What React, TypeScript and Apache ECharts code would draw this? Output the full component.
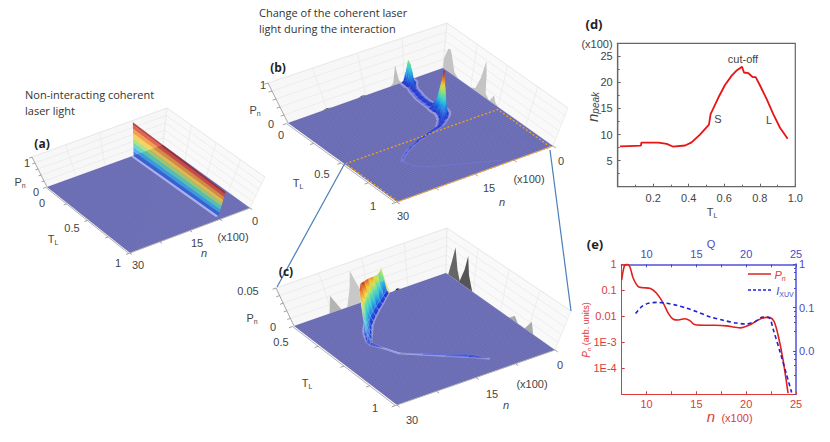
import { useEffect, useRef } from 'react';
import * as echarts from 'echarts';

// (d) peak position against T_L
const dT = [0.013, 0.06, 0.131, 0.133, 0.229, 0.276, 0.31, 0.38, 0.416, 0.463, 0.514, 0.523, 0.567, 0.604, 0.642, 0.67, 0.7, 0.711, 0.735, 0.76, 0.777, 0.8, 0.839, 0.876, 0.914, 0.957];
const dN = [7.74, 7.8, 7.87, 8.45, 8.45, 8.2, 7.7, 7.9, 8.5, 10, 11.9, 13.9, 17.1, 19.5, 21.3, 22.3, 23, 21.9, 21.8, 21, 21, 19.5, 16.8, 13.9, 11.3, 9.2];

// (e) spectrum and XUV intensity
const ePnX = [7.5, 7.66, 7.82, 8.06, 8.33, 8.66, 9.16, 9.67, 10.33, 11, 11.67, 12.18, 12.68, 13.18, 13.85, 14.35, 14.75, 15.7, 16.86, 18, 19.4, 20.4, 21.2, 22.05, 22.4, 22.8, 23.2, 23.7, 24.2];
const ePnV = [0.25, 0.6, 0.94, 1, 0.77, 0.29, 0.138, 0.126, 0.12, 0.077, 0.032, 0.013, 0.0077, 0.0072, 0.0081, 0.0068, 0.0049, 0.0045, 0.0045, 0.0043, 0.0036, 0.0047, 0.0072, 0.0091, 0.0089, 0.0063, 0.0019, 0.00021, 0.000011];
const eXuvX = [8.9, 9.5, 10.17, 11.07, 12, 13, 14, 15, 16.4, 17.7, 19, 20, 20.9, 21.7, 22.3, 22.7, 23.4, 24.06, 24.56];
const eXuvV = [0.073, 0.105, 0.126, 0.132, 0.126, 0.113, 0.097, 0.081, 0.061, 0.051, 0.044, 0.042, 0.048, 0.061, 0.059, 0.032, 0.0095, 0.0028, 0.0011];

// (a) straight ridge, read at its two ends
const aT = [0, 0.96];
const aN = [7.6, 7];
const aTop = [0.95, 0.75];
const aLevels = [0, 0.13, 0.26, 0.4, 0.53, 0.67, 0.8, 0.92, 1];
const aBandColors = ['#2b5fd8', '#2fa4e8', '#4fd0b4', '#9fdc6a', '#f5cb36', '#f08c2c', '#d9442a', '#a61f20'];

// (b) ridge along T_L: position, height and width of each slice
const bT = [0, 0.02, 0.04, 0.07, 0.1, 0.14, 0.18, 0.22, 0.26, 0.3, 0.33, 0.36, 0.38, 0.4, 0.43, 0.46, 0.49, 0.52, 0.55, 0.58, 0.61, 0.64, 0.67, 0.72, 0.76, 0.8, 0.84, 0.88, 0.92, 0.96];
const bN = [7, 7, 7.1, 7.4, 7.8, 8, 8.3, 8.4, 8.4, 8.3, 8.2, 8.1, 8.2, 8.4, 9, 10, 11, 13.5, 16.5, 18.5, 20, 21.2, 22, 21.8, 21, 19.5, 17, 14.5, 12, 9.3];
const bP = [0.25, 0.5, 0.46, 0.12, 0.06, 0.05, 0.05, 0.05, 0.05, 0.07, 0.25, 0.7, 1, 0.6, 0.2, 0.08, 0.05, 0.04, 0.03, 0.02, 0.015, 0.012, 0.005, 0.003, 0.003, 0.003, 0.003, 0.003, 0.003, 0.002];
const bW = [1, 1, 1, 0.7, 0.7, 0.7, 0.7, 0.7, 0.7, 0.8, 1, 1, 1, 1, 0.9, 0.8, 0.6, 0.5, 0.4, 0.4, 0.35, 0.3, 0.25, 0.08, 0.08, 0.08, 0.08, 0.08, 0.08, 0.08];

// (c) same ridge, zoomed in
const cT = [0.5, 0.52, 0.54, 0.56, 0.58, 0.6, 0.62, 0.64, 0.66, 0.68, 0.7, 0.74, 0.78, 0.82, 0.86, 0.9, 0.94];
const cN = [12, 13.5, 15, 16.6, 18, 19.3, 20.4, 21.2, 21.9, 22.6, 23, 21.8, 20.8, 18, 15.2, 12.3, 10];
const cP = [0.03, 0.03, 0.035, 0.04, 0.044, 0.048, 0.045, 0.035, 0.02, 0.008, 0.003, 0.0006, 0.0008, 0.0009, 0.0014, 0.003, 0.0008];
const cW = [0.7, 0.7, 0.75, 0.8, 0.8, 0.8, 0.75, 0.7, 0.6, 0.45, 0.3, 0.2, 0.2, 0.2, 0.25, 0.3, 0.15];

// cross-section of a ridge: offset in n, relative height
const ridgeOffsets = [-1, -0.6, -0.3, 0, 0.3, 0.6, 1];
const ridgeWeights = [0, 0.15, 0.6, 1, 0.6, 0.15, 0];

// silhouettes on the walls: T wall peaks run along n, n wall peaks along T
const bWallN = [
  { x: [8, 8.5, 8.8, 9, 9.2, 9.6, 10.2], p: [0, 0.08, 0.28, 0.45, 0.3, 0.06, 0], color: '#bdbdbd' },
  { x: [14.8, 15.6, 16.4], p: [0, 0.025, 0], color: '#555' },
  { x: [21.6, 22.5, 23.4], p: [0, 0.025, 0], color: '#555' },
];
const bWallT = [
  { x: [0, 0.01, 0.03, 0.05, 0.07, 0.1, 0.14], p: [0.2, 0.3, 0.48, 0.5, 0.35, 0.08, 0], color: '#c4c4c4' },
  { x: [0.25, 0.29, 0.32, 0.34, 0.36, 0.38, 0.42], p: [0, 0.06, 0.35, 0.78, 0.5, 0.1, 0], color: '#c4c4c4' },
  { x: [0.42, 0.45, 0.47, 0.5], p: [0, 0.18, 0.06, 0], color: '#c4c4c4' },
];
const cWallN = [
  { x: [20.6, 21.4, 21.9, 22.4, 23], p: [0, 0.012, 0.02, 0.01, 0], color: '#b4b4b4' },
  { x: [15.5, 16.6, 17.4, 18.2, 19.5], p: [0, 0.02, 0.04, 0.02, 0], color: '#c8c8c8' },
  { x: [11, 11.6, 12, 12.4, 13], p: [0, 0.015, 0.033, 0.018, 0], color: '#f0dc90' },
  { x: [9, 9.6, 10.2], p: [0, 0.002, 0], color: '#222' },
];
const cWallT = [
  { x: [0.51, 0.525, 0.537, 0.55, 0.565], p: [0, 0.018, 0.035, 0.012, 0], color: '#666' },
  { x: [0.56, 0.58, 0.59, 0.6, 0.62], p: [0, 0.018, 0.035, 0.015, 0], color: '#555' },
  { x: [0.79, 0.81, 0.83], p: [0, 0.006, 0], color: '#aaa' },
  { x: [0.86, 0.88, 0.9], p: [0, 0.012, 0], color: '#aaa' },
];

const nTicks = [0, 7.5, 15, 22.5, 30];
const pFractions = [0.2, 0.4, 0.6, 0.8, 1];

// the frame of each 3D box on the page
const panelA = { tMin: 0, tMax: 1, pMax: 1, left: [47, 187], back: [163, 145], right: [250, 208], front: [130, 253], upLeft: [-15, -30], upBack: [4, -37], upRight: [15, -31], upFront: [-8, -35] };
const panelB = { tMin: 0, tMax: 1, pMax: 1, left: [288, 123], back: [443, 68], right: [553, 146], front: [397, 202], upLeft: [-20, -40], upBack: [4, -45], upRight: [15, -38], upFront: [-8, -45] };
const panelC = { tMin: 0.5, tMax: 1, pMax: 0.05, left: [294, 326], back: [446, 273], right: [555, 350], front: [397, 405], upLeft: [-18, -38], upBack: [1, -45], upRight: [16, -39], upFront: [-8, -45] };

const FONT = '"Liberation Sans", Arial, sans-serif';
const FLOOR = '#6a6cb4';

function project(pn: any, T: number, n: number, P: number) {
  const s = (T - pn.tMin) / (pn.tMax - pn.tMin);
  const u = 1 - n / 30;
  const mix = (a: number[], b: number[], c: number[], d: number[], i: number) =>
    (1 - s) * ((1 - u) * a[i] + u * b[i]) + s * ((1 - u) * d[i] + u * c[i]);
  const h = P / pn.pMax;
  return [
    mix(pn.left, pn.back, pn.right, pn.front, 0) + h * mix(pn.upLeft, pn.upBack, pn.upRight, pn.upFront, 0),
    mix(pn.left, pn.back, pn.right, pn.front, 1) + h * mix(pn.upLeft, pn.upBack, pn.upRight, pn.upFront, 1),
  ];
}

const jetStops: [number, number[]][] = [
  [0, [124, 130, 232]],
  [0.02, [32, 48, 200]],
  [0.15, [31, 111, 232]],
  [0.35, [48, 208, 216]],
  [0.5, [128, 224, 128]],
  [0.65, [240, 224, 64]],
  [0.8, [240, 128, 32]],
  [1, [168, 24, 24]],
];
function jet(v: number) {
  const x = Math.max(0, Math.min(1, v));
  for (let i = 1; i < jetStops.length; i++) {
    if (x <= jetStops[i][0]) {
      const [a, ca] = jetStops[i - 1];
      const [b, cb] = jetStops[i];
      const f = (x - a) / (b - a);
      const c = ca.map((q, k) => Math.round(q + (cb[k] - q) * f));
      return `rgb(${c[0]},${c[1]},${c[2]})`;
    }
  }
  return 'rgb(168,24,24)';
}

// walls, grid lines and axis edges of one box
function boxItems(pn: any, tickT: number[]) {
  const { tMin: t0, tMax: t1, pMax } = pn;
  const items: any[] = [
    { pts: [[t0, 30, 0], [t0, 0, 0], [t0, 0, pMax], [t0, 30, pMax]], fill: '#f7f7f7', stroke: '#e4e4e4', lw: 0.6 },
    { pts: [[t0, 0, 0], [t1, 0, 0], [t1, 0, pMax], [t0, 0, pMax]], fill: '#f9f9f9', stroke: '#e4e4e4', lw: 0.6 },
  ];
  pFractions.forEach(f => {
    items.push({ pts: [[t0, 30, f * pMax], [t0, 0, f * pMax], [t1, 0, f * pMax]], stroke: '#e6e6e6', lw: 0.6 });
  });
  nTicks.slice(1, 4).forEach(n => {
    items.push({ pts: [[t0, n, 0], [t0, n, pMax]], stroke: '#e6e6e6', lw: 0.6 });
  });
  tickT.slice(1, 4).forEach(t => {
    items.push({ pts: [[t, 0, 0], [t, 0, pMax]], stroke: '#e6e6e6', lw: 0.6 });
  });
  return items;
}

function edgeItems(pn: any, tickT: number[]) {
  const { tMin: t0, tMax: t1, pMax } = pn;
  const dt = (t1 - t0) * 0.025;
  const items: any[] = [
    { pts: [[t0, 30.3, 0], [t1, 30.3, 0], [t1, 0, 0]], stroke: '#b0b0b0', lw: 1 },
    { pts: [[t0, 30, 0], [t0, 30, pMax]], stroke: '#999', lw: 0.8 },
  ];
  tickT.forEach(t => items.push({ pts: [[t, 30.3, 0], [t, 31, 0]], stroke: '#888', lw: 0.8 }));
  nTicks.forEach(n => items.push({ pts: [[t1, n, 0], [t1 + dt, n, 0]], stroke: '#888', lw: 0.8 }));
  pFractions.forEach(f => items.push({ pts: [[t0, 30, f * pMax], [t0, 30.6, f * pMax]], stroke: '#888', lw: 0.8 }));
  return items;
}

function floorItems(pn: any) {
  const { tMin: t0, tMax: t1 } = pn;
  const items: any[] = [{ pts: [[t0, 30, 0], [t0, 0, 0], [t1, 0, 0], [t1, 30, 0]], fill: FLOOR }];
  const steps = 60;
  for (let i = 1; i < steps; i++) {
    const t = t0 + ((t1 - t0) * i) / steps;
    const n = (30 * i) / steps;
    items.push({ pts: [[t, 30, 0], [t, 0, 0]], stroke: '#9a9cd6', lw: 0.4, opacity: 0.5 });
    items.push({ pts: [[t0, n, 0], [t1, n, 0]], stroke: '#4e5090', lw: 0.4, opacity: 0.4 });
  }
  return items;
}

function wallPeaks(pn: any, alongN: any[], alongT: any[]) {
  const items: any[] = [];
  alongN.forEach(w => items.push({ pts: w.x.map((x: number, i: number) => [pn.tMin, x, w.p[i]]), fill: w.color }));
  alongT.forEach(w => {
    const pts = w.x.map((x: number, i: number) => [x, 0, w.p[i]]);
    pts.push([w.x[w.x.length - 1], 0, 0], [w.x[0], 0, 0]);
    items.push({ pts, fill: w.color });
  });
  return items;
}

// surface over the ridge, one gradient quad per mesh cell
function ribbonItems(Ts: number[], Ns: number[], Ps: number[], Ws: number[], pMax: number, meshStroke?: string) {
  const items: any[] = [];
  for (let i = 0; i + 1 < Ts.length; i++) {
    const a = 1.5 * Ws[i];
    const b = 1.5 * Ws[i + 1];
    items.push({
      pts: [[Ts[i], Ns[i] - a, 0], [Ts[i], Ns[i] + a, 0], [Ts[i + 1], Ns[i + 1] + b, 0], [Ts[i + 1], Ns[i + 1] - b, 0]],
      fill: '#b4b8f2',
      opacity: Math.min(0.6, Ws[i + 1]),
    });
  }
  for (let i = 0; i + 1 < Ts.length; i++) {
    for (let j = 0; j + 1 < ridgeOffsets.length; j++) {
      const quad = [
        [Ts[i], Ns[i] + ridgeOffsets[j] * Ws[i], Ps[i] * ridgeWeights[j]],
        [Ts[i], Ns[i] + ridgeOffsets[j + 1] * Ws[i], Ps[i] * ridgeWeights[j + 1]],
        [Ts[i + 1], Ns[i + 1] + ridgeOffsets[j + 1] * Ws[i + 1], Ps[i + 1] * ridgeWeights[j + 1]],
        [Ts[i + 1], Ns[i + 1] + ridgeOffsets[j] * Ws[i + 1], Ps[i + 1] * ridgeWeights[j]],
      ];
      const hs = quad.map(q => q[2] / pMax);
      const hi = Math.max(...hs);
      const lo = Math.min(...hs);
      const fill = new echarts.graphic.LinearGradient(0, 0, 0, 1, [0, 0.25, 0.5, 0.75, 1].map(o => ({ offset: o, color: jet(hi - (hi - lo) * o) })));
      // the far tail of the ridge only just shows on the floor
      const faint = Ws[i + 1] < 0.1;
      items.push({ pts: quad, fill, stroke: meshStroke || fill, lw: meshStroke ? 0.3 : 0.2, opacity: faint ? 0.25 : 1 });
    }
  }
  return items;
}

function ridgeA() {
  const items: any[] = [
    { pts: [[aT[0], aN[0], 0], [aT[0], aN[0] + 0.7, 0], [aT[1], aN[1] + 0.7, 0], [aT[1], aN[1], 0]], fill: '#aab0ee' },
  ];
  aBandColors.forEach((c, k) => {
    items.push({
      pts: [
        [aT[0], aN[0], aLevels[k] * aTop[0]],
        [aT[1], aN[1], aLevels[k] * aTop[1]],
        [aT[1], aN[1], aLevels[k + 1] * aTop[1]],
        [aT[0], aN[0], aLevels[k + 1] * aTop[0]],
      ],
      fill: c,
      opacity: 0.82,
    });
  });
  return items;
}

function surface(pn: any, items: any[], z: number) {
  return {
    type: 'custom',
    xAxisIndex: 3,
    yAxisIndex: 3,
    coordinateSystem: 'cartesian2d',
    clip: false,
    silent: true,
    z,
    data: items.map((_, i) => [i, 0]),
    renderItem: (_p: any, api: any) => {
      const it = items[api.value(0)];
      const points = it.pts.map((q: number[]) => api.coord(project(pn, q[0], q[1], q[2])));
      return {
        type: it.fill ? 'polygon' : 'polyline',
        shape: { points },
        style: {
          fill: it.fill || 'none',
          stroke: it.stroke || 'none',
          lineWidth: it.lw || 0,
          opacity: it.opacity ?? 1,
          lineDash: it.dash,
        },
      };
    },
  };
}

function label(text: string, x: number, y: number, extra: any = {}) {
  return {
    type: 'text',
    x,
    y,
    z: 100,
    silent: true,
    style: { text, fontFamily: FONT, fontSize: 11, fill: '#444', align: 'center', verticalAlign: 'middle', ...extra },
  };
}

function subLabel(main: string, sub: string, x: number, y: number, opts: any = {}) {
  const { color = '#444', size = 11, subSize = 7, italic = false, subItalic = false, rotation, tail } = opts;
  const el: any = {
    type: 'text',
    x,
    y,
    z: 100,
    silent: true,
    style: {
      text: `{m|${main}}{s|${sub}}` + (tail ? `{t|${tail}}` : ''),
      align: 'center',
      verticalAlign: 'middle',
      rich: {
        m: { fontFamily: FONT, fontSize: size, fill: color, fontStyle: italic ? 'italic' : 'normal' },
        s: { fontFamily: FONT, fontSize: subSize, fill: color, fontStyle: subItalic ? 'italic' : 'normal', verticalAlign: 'bottom', padding: [6, 0, 0, 0] },
        t: { fontFamily: FONT, fontSize: size - 1, fill: color },
      },
    },
  };
  if (rotation) el.rotation = rotation;
  return el;
}

const titleStyle = { fontFamily: '"Open Sans", sans-serif', fontSize: 11, fill: '#333', align: 'left' };
const panelTag = { fontWeight: 'bold', fontSize: 12, fill: '#222', fontFamily: '"Open Sans", sans-serif' };
const RED = '#dd3a3a';
const BLUE = '#4a4ac8';
const AXIS_BLUE = '#7c7de2';

const graphics: any[] = [
  // connectors between (b) and (c)
  { type: 'line', z: 5, silent: true, shape: { x1: 345, y1: 163, x2: 277, y2: 287 }, style: { stroke: '#4a7ebb', lineWidth: 1.2 } },
  { type: 'line', z: 5, silent: true, shape: { x1: 550, y1: 150, x2: 571, y2: 311 }, style: { stroke: '#4a7ebb', lineWidth: 1.2 } },

  label('Non-interacting coherent', 25, 94, titleStyle),
  label('laser light', 25, 110, titleStyle),
  label('(a)', 42, 143, panelTag),
  label('1', 27, 163),
  subLabel('P', 'n', 20, 182),
  label('0', 36, 192),
  label('0', 42, 203),
  label('0.5', 72, 228),
  subLabel('T', 'L', 53, 239),
  label('1', 118, 263),
  label('30', 138, 265),
  label('15', 197, 243),
  label('n', 204, 253, { fontStyle: 'italic' }),
  label('(x100)', 233, 237),
  label('0', 255, 221),

  label('Change of the coherent laser', 259, 12, titleStyle),
  label('light during the interaction', 259, 28, titleStyle),
  label('(b)', 278, 67, panelTag),
  label('1', 263, 85),
  subLabel('P', 'n', 255, 110),
  label('0', 271, 124),
  label('0', 281, 135),
  label('0.5', 322, 174),
  subLabel('T', 'L', 298, 183),
  label('1', 373, 206),
  label('30', 403, 216),
  label('15', 489, 188),
  label('n', 502, 202, { fontStyle: 'italic' }),
  label('(x100)', 529, 179),
  label('0', 561, 161),

  label('(c)', 286, 271, panelTag),
  label('0.05', 248, 291),
  subLabel('P', 'n', 252, 318),
  label('0', 273, 327),
  label('0.5', 281, 342),
  subLabel('T', 'L', 307, 383),
  label('1', 375, 408),
  label('30', 412, 420),
  label('15', 492, 394),
  label('n', 506, 405, { fontStyle: 'italic' }),
  label('(x100)', 532, 384),
  label('0', 560, 365),

  label('(d)', 594, 24, { ...panelTag, fontSize: 13 }),
  label('(x100)', 597, 44),
  subLabel('n', 'peak', 592, 107, { size: 15, subSize: 10, italic: true, subItalic: true, rotation: Math.PI / 2 }),
  label('cut-off', 743, 59),
  label('S', 718, 119),
  label('L', 769, 120),
  subLabel('T', 'L', 712, 212),

  label('(e)', 595, 244, { ...panelTag, fontSize: 13 }),
  label('Q', 711, 244, { fill: BLUE }),
  subLabel('P', 'n', 586, 330, { color: RED, size: 10, subSize: 6, italic: true, subItalic: true, tail: ' (arb. units)', rotation: Math.PI / 2 }),
  label('n', 711, 416, { fontSize: 15, fontStyle: 'italic', fill: RED }),
  label('(x100)', 737, 418, { fill: RED, fontSize: 11 }),
  { type: 'line', z: 100, silent: true, shape: { x1: 748, y1: 274, x2: 771, y2: 274 }, style: { stroke: '#e0201e', lineWidth: 1.5 } },
  { type: 'line', z: 100, silent: true, shape: { x1: 748, y1: 290, x2: 771, y2: 290 }, style: { stroke: '#2020d8', lineWidth: 1.5, lineDash: [3, 2] } },
  subLabel('P', 'n', 780, 275, { color: RED, italic: true, subItalic: true }),
  subLabel('I', 'XUV', 785, 291, { color: BLUE, italic: true, subSize: 7 }),
];

const logLabels: Record<string, string> = { '0': '1', '-1': '0.1', '-2': '0.01', '-3': '1E-3', '-4': '1E-4', '-5': '' };
const rightLabels: Record<string, string> = { '0': '1', '-1': '0.1', '-2': '0.0', '-3': '' };

export default function App() {
  const chartRef = useRef<HTMLDivElement>(null);

  useEffect(() => {
    if (!chartRef.current) return;
    const chart = echarts.init(chartRef.current, null, { renderer: 'svg' });

    const tickA = [0, 0.25, 0.5, 0.75, 1];
    const tickC = [0.5, 0.625, 0.75, 0.875, 1];
    const frameRect = [
      [0.52, 29.8, 0], [0.52, 0.5, 0], [1, 0.5, 0], [1, 29.8, 0], [0.52, 29.8, 0],
    ];

    const option: any = {
      animation: false,
      backgroundColor: '#fff',
      graphic: { elements: graphics },
      grid: [
        { left: 617.7, right: 34.7, top: 43.3, bottom: 255.3, show: true, borderColor: '#666', borderWidth: 1.2, backgroundColor: 'transparent' },
        { left: 621.7, right: 34, top: 264.3, bottom: 47.7 },
        { left: 0, top: 0, width: 830, height: 442 },
      ],
      xAxis: [
        {
          gridIndex: 0, type: 'value', min: 0, max: 1, interval: 0.2,
          axisLine: { lineStyle: { color: '#666', width: 1.2 } },
          axisTick: { inside: true, length: 3, lineStyle: { color: '#666' } },
          minorTick: { show: true, splitNumber: 2, length: 2, lineStyle: { color: '#666' } },
          splitLine: { show: false },
          axisLabel: { color: '#444', fontFamily: FONT, fontSize: 11, margin: 6, formatter: (v: number) => (v === 0 ? '' : v.toFixed(1)) },
        },
        {
          gridIndex: 1, type: 'value', min: 7.5, max: 25, interval: 2.5,
          axisLine: { lineStyle: { color: RED, width: 1 } },
          axisTick: { inside: true, length: 3, lineStyle: { color: RED } },
          splitLine: { show: false },
          axisLabel: { color: RED, fontFamily: FONT, fontSize: 11, margin: 4, hideOverlap: false, formatter: (v: number) => (v % 5 === 0 ? String(v) : '') },
        },
        {
          gridIndex: 1, type: 'value', position: 'top', min: 7.5, max: 25, interval: 2.5,
          axisLine: { lineStyle: { color: AXIS_BLUE, width: 2 } },
          axisTick: { inside: true, length: 3, lineStyle: { color: BLUE } },
          splitLine: { show: false },
          axisLabel: { color: BLUE, fontFamily: FONT, fontSize: 11, margin: 5, formatter: (v: number) => (v % 5 === 0 ? String(v) : '') },
        },
        { gridIndex: 2, type: 'value', min: 0, max: 830, show: false },
      ],
      yAxis: [
        {
          gridIndex: 0, type: 'value', min: 0, max: 27.5, interval: 5,
          axisLine: { lineStyle: { color: '#666', width: 1.2 } },
          axisTick: { inside: true, length: 3, lineStyle: { color: '#666' } },
          minorTick: { show: true, splitNumber: 2, length: 2, lineStyle: { color: '#666' } },
          splitLine: { show: false },
          axisLabel: { color: '#444', fontFamily: FONT, fontSize: 11, margin: 5, formatter: (v: number) => (v === 0 || v > 25 ? '' : String(v)) },
        },
        {
          gridIndex: 1, type: 'log', logBase: 10, min: 1e-5, max: 1,
          axisLine: { onZero: false, lineStyle: { color: RED, width: 1 } },
          axisTick: { inside: true, length: 3, lineStyle: { color: RED } },
          splitLine: { show: false },
          axisLabel: { color: RED, fontFamily: FONT, fontSize: 11, margin: 5, formatter: (v: number) => logLabels[String(Math.round(Math.log10(v)))] ?? '' },
        },
        {
          gridIndex: 1, type: 'log', logBase: 10, position: 'right', min: 1e-3, max: 1,
          axisLine: { onZero: false, lineStyle: { color: AXIS_BLUE, width: 2 } },
          axisTick: { inside: true, length: 3, lineStyle: { color: BLUE } },
          minorTick: { show: true, splitNumber: 5, length: 2, lineStyle: { color: BLUE } },
          splitLine: { show: false },
          axisLabel: { color: BLUE, fontFamily: FONT, fontSize: 11, margin: 3, formatter: (v: number) => rightLabels[String(Math.round(Math.log10(v)))] ?? '' },
        },
        { gridIndex: 2, type: 'value', min: 0, max: 442, inverse: true, show: false },
      ],
      series: [
        surface(panelA, boxItems(panelA, tickA), 1),
        surface(panelA, floorItems(panelA), 2),
        surface(panelA, edgeItems(panelA, tickA), 2),
        surface(panelA, ridgeA(), 3),

        surface(panelB, boxItems(panelB, tickA), 1),
        surface(panelB, wallPeaks(panelB, bWallN, bWallT), 1),
        surface(panelB, floorItems(panelB), 2),
        surface(panelB, edgeItems(panelB, tickA), 2),
        surface(panelB, ribbonItems(bT, bN, bP, bW, 1), 3),
        surface(panelB, [{ pts: frameRect, stroke: '#f2a01e', lw: 1.3, dash: [2, 2] }], 4),

        surface(panelC, boxItems(panelC, tickC), 1),
        surface(panelC, wallPeaks(panelC, cWallN, cWallT), 1),
        surface(panelC, floorItems(panelC), 2),
        surface(panelC, edgeItems(panelC, tickC), 2),
        surface(panelC, ribbonItems(cT, cN, cP, cW, 0.05, 'rgba(255,255,255,0.35)'), 3),

        {
          type: 'line', xAxisIndex: 0, yAxisIndex: 0, showSymbol: false, z: 5,
          data: dT.map((t, i) => [t, dN[i]]),
          lineStyle: { color: '#e81414', width: 1.8 },
        },
        {
          type: 'line', xAxisIndex: 1, yAxisIndex: 1, showSymbol: false, smooth: 0.3, z: 5,
          data: ePnX.map((x, i) => [x, ePnV[i]]),
          lineStyle: { color: '#e0201e', width: 1.6 },
        },
        {
          type: 'line', xAxisIndex: 1, yAxisIndex: 2, showSymbol: false, smooth: 0.3, z: 5,
          data: eXuvX.map((x, i) => [x, eXuvV[i]]),
          lineStyle: { color: '#2020d8', width: 1.6, type: [4, 3] },
        },
      ],
    };

    chart.setOption(option);
    return () => chart.dispose();
  }, []);

  return <div ref={chartRef} style={{ position: 'absolute', left: 0, top: 0, width: 830, height: 442 }} />;
}
